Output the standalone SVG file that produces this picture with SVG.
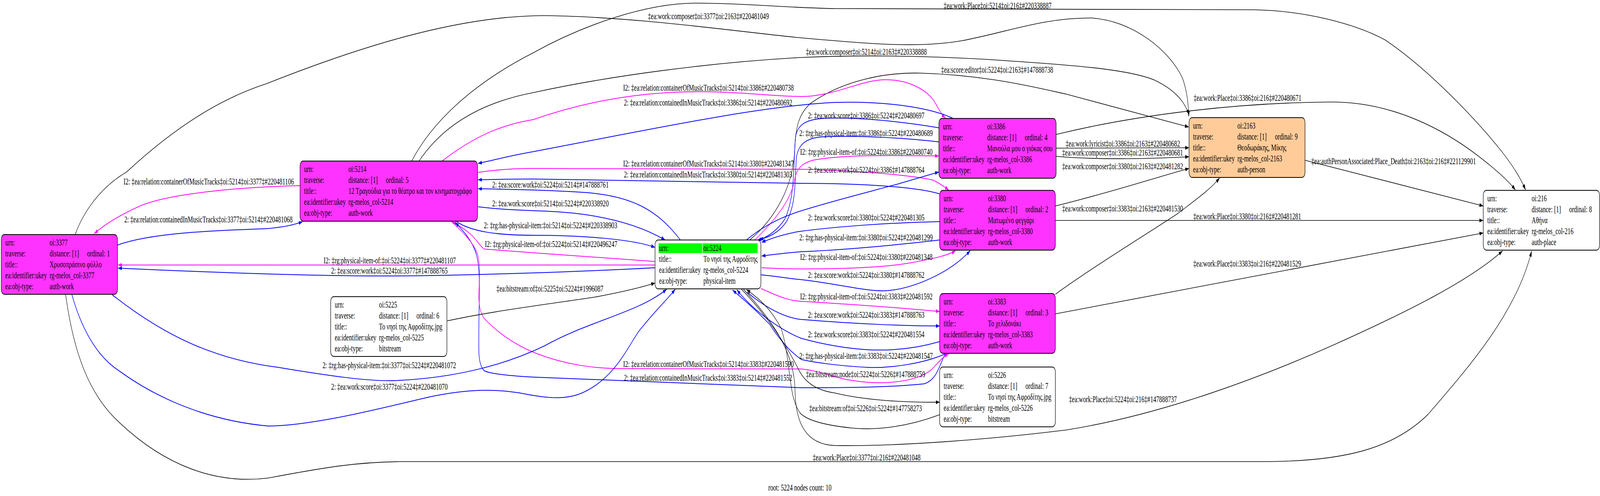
<svg xmlns="http://www.w3.org/2000/svg" width="6319" height="1269" viewBox="0 0 6319 1269" preserveAspectRatio="none">
<style>
svg{width:100vw;height:100vh;display:block}
text{font-family:"Liberation Serif","Times New Roman",serif;font-size:23.3px;fill:#000}
.box{stroke:#000;stroke-width:1.8}
#edges path{fill:none}
.b{stroke:#0000ff;stroke-width:2}
.m{stroke:#ff00ff;stroke-width:2}
.k{stroke:#000;stroke-width:1.6}
.b{marker-end:url(#ab)}
.m{marker-end:url(#am)}
.k{marker-end:url(#ak)}
</style>
<defs>
<marker id="ab" markerWidth="15" markerHeight="10" refX="15" refY="5" orient="auto" markerUnits="userSpaceOnUse"><path d="M0,0 L15,5 L0,10 z" fill="#0000ff"/></marker>
<marker id="am" markerWidth="15" markerHeight="10" refX="15" refY="5" orient="auto" markerUnits="userSpaceOnUse"><path d="M0,0 L15,5 L0,10 z" fill="#ff00ff"/></marker>
<marker id="ak" markerWidth="15" markerHeight="10" refX="15" refY="5" orient="auto" markerUnits="userSpaceOnUse"><path d="M0,0 L15,5 L0,10 z" fill="#000"/></marker>
</defs>
<rect width="6319" height="1269" fill="#fff"/>
<g id="edges">
<g><path class="k" d="M297,600 C330,540 400,478 500,440 C700,320 880,250 1053,214 C1400,125 1800,40 2150,40 C2500,42 2900,80 3166,97 C3400,110 3620,125 3800,104 C3980,82 4120,45 4313,46 C4480,55 4620,130 4670,200 C4690,235 4693,270 4695,298"/><text x="2559" y="49">‡ea:work:composer‡oi:3377‡oi:2163‡#220481049</text></g>
<g><path class="k" d="M1626,412 C1700,320 1850,220 2106,135 C2300,65 2550,8 2748,8 C2950,8 3100,20 3300,22 L4950,25 C5150,27 5350,60 5470,102 C5650,180 5850,320 5941,396 C5980,430 6005,455 6025,486"/><text x="3727" y="22">‡ea:work:Place‡oi:5214‡oi:216‡#220338887</text></g>
<g><path class="k" d="M1655,412 C1740,330 1880,265 2106,237 C2400,195 2800,160 3166,147 C3400,140 3650,143 3900,152 C4200,165 4450,175 4560,205 C4640,230 4680,260 4696,295"/><text x="3183" y="140">‡ea:work:composer‡oi:5214‡oi:2163‡#220338888</text></g>
<g><path class="k" d="M2961,614 C3060,560 3130,480 3138,390 C3142,330 3150,295 3200,265 C3330,205 3500,185 3632,187 C3900,192 4100,225 4212,241 L4695,325"/><text x="3717" y="186">‡ea:score:editor‡oi:5224‡oi:2163‡#147888738</text></g>
<g><path class="k" d="M5154,410 L5858,527"/><text x="5179" y="420">‡ea:authPersonAssociated:Place_Death‡oi:2163‡oi:216‡#221129901</text></g>
<g><path class="k" d="M4171,344 C4500,292 4900,262 5265,261 C5500,262 5700,330 5840,400 C5920,440 5960,465 5985,486"/><text x="4714" y="258">‡ea:work:Place‡oi:3386‡oi:216‡#220480671</text></g>
<g><path class="k" d="M4171,379 L4696,378"/><text x="4209" y="375">‡ea:work:lyricist‡oi:3386‡oi:2163‡#220480682</text></g>
<g><path class="k" d="M4171,400 C4350,410 4550,406 4696,401"/><text x="4195" y="398">‡ea:work:composer‡oi:3386‡oi:2163‡#220480681</text></g>
<g><path class="k" d="M4168,527 C4400,490 4560,455 4696,431"/><text x="4195" y="433">‡ea:work:composer‡oi:3380‡oi:2163‡#220481282</text></g>
<g><path class="k" d="M4168,564 L5858,564"/><text x="4713" y="561">‡ea:work:Place‡oi:3380‡oi:216‡#220481281</text></g>
<g><path class="k" d="M4168,753 C4300,690 4550,590 4650,547 C4720,512 4780,485 4817,455"/><text x="4195" y="541">‡ea:work:composer‡oi:3383‡oi:2163‡#220481530</text></g>
<g><path class="k" d="M4168,803 L5858,596"/><text x="4713" y="682">‡ea:work:Place‡oi:3383‡oi:216‡#220481529</text></g>
<g><path class="k" d="M2935,739 C3050,820 3138,900 3140,1000 C3142,1080 3180,1138 3300,1140 C3550,1142 3900,1125 4212,1100 C4600,1060 5000,960 5272,881 C5550,800 5800,720 5934,642"/><text x="4222" y="1029">‡ea:work:Place‡oi:5224‡oi:216‡#147888737</text></g>
<g><path class="k" d="M259,753 C290,900 350,1010 473,1082 C650,1190 850,1240 1060,1223 C1250,1200 1400,1181 1600,1181 L5000,1181 C5300,1180 5500,1150 5640,1060 C5800,940 5990,800 6049,642"/><text x="3210" y="1178">‡ea:work:Place‡oi:3377‡oi:216‡#220481048</text></g>
<g><path class="m" d="M1185,475 C1000,478 700,490 560,525 C480,548 415,573 372,598"/><text x="488" y="472">I2: ‡ea:relation:containerOfMusicTracks‡oi:5214‡oi:3377‡#220481106</text></g>
<g><path class="b" d="M464,627 C600,595 850,590 1053,585 C1110,582 1160,576 1195,567"/><text x="491" y="569">2: ‡ea:relation:containedInMusicTracks‡oi:3377‡oi:5214‡#220481068</text></g>
<g><path class="m" d="M1746,412 C1880,345 1990,318 2106,306 C2300,262 2500,238 2714,235 C2900,232 3050,247 3166,247 C3300,246 3400,204 3497,204 C3600,204 3670,235 3695,265 C3712,285 3722,295 3734,302"/><text x="2461" y="232">I2: ‡ea:relation:containerOfMusicTracks‡oi:5214‡oi:3386‡#220480738</text></g>
<g><path class="b" d="M3764,303 C3700,283 3550,258 3300,262 C3000,270 2500,340 2106,388 C2000,400 1950,410 1888,418"/><text x="2464" y="270">2: ‡ea:relation:containedInMusicTracks‡oi:3386‡oi:5214‡#220480692</text></g>
<g><path class="m" d="M1888,441 C1950,435 2030,431 2106,431 L3166,433 C3400,437 3600,448 3686,461 C3712,470 3732,478 3747,487"/><text x="2461" y="426">I2: ‡ea:relation:containerOfMusicTracks‡oi:5214‡oi:3380‡#220481347</text></g>
<g><path class="b" d="M3711,496 C3620,478 3400,469 3159,469 L2106,458 C2030,458 1950,459 1888,460"/><text x="2464" y="454">2: ‡ea:relation:containedInMusicTracks‡oi:3380‡oi:5214‡#220481303</text></g>
<g><path class="b" d="M2687,614 C2600,540 2500,500 2300,492 C2150,486 2000,484 1888,483"/><text x="1944" y="480">2: ‡ea:score:work‡oi:5224‡oi:5214‡#147888761</text></g>
<g><path class="b" d="M1888,529 C1960,535 2050,538 2150,540 C2350,545 2510,570 2627,614"/><text x="1944" y="528">2: ‡ea:work:score‡oi:5214‡oi:5224‡#220338920</text></g>
<g><path class="b" d="M1803,567 C1860,592 1960,602 2106,602 C2300,602 2500,612 2587,633"/><text x="1911" y="584">2: ‡rg:has-physical-item:‡oi:5214‡oi:5224‡#220338903</text></g>
<g><path class="m" d="M2587,669 L2113,647 L1911,637 C1895,628 1880,612 1860,600 C1830,583 1805,574 1786,568"/><text x="1915" y="632">I2: ‡rg:physical-item-of:‡oi:5224‡oi:5214‡#220496247</text></g>
<g><path class="b" d="M3734,904 C3712,930 3702,972 3650,982 C3500,992 3300,992 3166,992 L2113,965 C2000,961 1932,956 1911,948 C1888,930 1891,900 1891,860 C1891,760 1900,700 1882,652 C1865,615 1830,590 1797,569"/><text x="2464" y="974">2: ‡ea:relation:containedInMusicTracks‡oi:3383‡oi:5214‡#220481552</text></g>
<g><path class="m" d="M1783,567 C1825,592 1868,618 1886,650 C1900,685 1891,722 1891,765 C1893,790 1902,805 1911,814 C1975,858 2045,885 2113,903 C2240,935 2350,942 2444,943 L3166,944 C3250,950 3300,968 3362,973 C3420,979 3460,980 3497,979 C3600,976 3662,960 3690,938 C3712,922 3732,910 3747,905"/><text x="2461" y="939">I2: ‡ea:relation:containerOfMusicTracks‡oi:5214‡oi:3383‡#220481590</text></g>
<g><path class="m" d="M2587,678 L466,678"/><text x="1278" y="674">I2: ‡rg:physical-item-of:‡oi:5224‡oi:3377‡#220481107</text></g>
<g><path class="b" d="M2587,685 C2300,695 1800,706 1526,706 C1200,706 800,696 466,686"/><text x="1308" y="700">2: ‡ea:score:work‡oi:5224‡oi:3377‡#147888765</text></g>
<g><path class="k" d="M1766,821 C1950,795 2200,775 2350,760 C2450,748 2530,736 2587,724"/><text x="1961" y="746">‡ea:bitstream:of‡oi:5225‡oi:5224‡#1996087</text></g>
<g><path class="b" d="M443,754 C650,860 850,920 1100,940 C1300,962 1450,975 1550,974 C1800,968 2000,932 2150,885 C2330,820 2520,800 2633,740"/><text x="1274" y="942">2: ‡rg:has-physical-item:‡oi:3377‡oi:5224‡#220481072</text></g>
<g><path class="b" d="M284,754 C330,860 400,920 473,950 C600,1010 800,1075 1060,1090 C1250,1088 1500,1045 1700,1015 C1850,995 1950,995 2050,1005 C2150,1018 2230,1025 2300,1005 C2420,970 2470,900 2520,850 C2580,800 2630,770 2667,740"/><text x="1308" y="997">2: ‡ea:work:score‡oi:3377‡oi:5224‡#220481070</text></g>
<g><path class="b" d="M3708,327 C3600,315 3400,298 3250,303 C3180,306 3150,320 3142,350 C3132,420 3142,500 3100,560 C3070,590 3030,606 3000,614"/><text x="3191" y="303">2: ‡ea:work:score‡oi:3386‡oi:5224‡#220480697</text></g>
<g><path class="b" d="M3708,363 C3600,355 3400,345 3250,350 C3185,353 3155,368 3146,400 C3138,450 3148,520 3105,568 C3075,596 3035,608 2992,614"/><text x="3157" y="348">2: ‡rg:has-physical-item:‡oi:3386‡oi:5224‡#220480689</text></g>
<g><path class="m" d="M2981,614 C3050,570 3125,515 3138,460 C3146,432 3165,418 3210,410 C3320,396 3500,397 3708,399"/><text x="3160" y="396">I2: ‡rg:physical-item-of:‡oi:5224‡oi:3386‡#220480740</text></g>
<g><path class="b" d="M2948,614 C3010,580 3080,556 3166,539 C3300,512 3450,488 3550,470 C3620,457 3670,447 3708,440"/><text x="3191" y="442">2: ‡ea:score:work‡oi:5224‡oi:3386‡#147888764</text></g>
<g><path class="b" d="M3711,567 C3500,570 3300,580 3159,592 C3100,598 3045,610 3008,620"/><text x="3191" y="564">2: ‡ea:work:score‡oi:3380‡oi:5224‡#220481305</text></g>
<g><path class="b" d="M3711,614 C3500,630 3300,640 3166,644 C3100,647 3045,652 3008,655"/><text x="3157" y="615">2: ‡rg:has-physical-item:‡oi:3380‡oi:5224‡#220481299</text></g>
<g><path class="m" d="M3008,685 C3060,687 3110,688 3159,688 C3350,688 3500,684 3600,672 C3700,660 3750,652 3774,641"/><text x="3160" y="665">I2: ‡rg:physical-item-of:‡oi:5224‡oi:3380‡#220481348</text></g>
<g><path class="b" d="M3005,703 C3080,708 3120,713 3159,715 C3300,725 3420,746 3497,744 C3600,740 3750,700 3832,641"/><text x="3191" y="711">2: ‡ea:score:work‡oi:5224‡oi:3380‡#147888762</text></g>
<g><path class="m" d="M3005,738 C3080,760 3120,770 3166,771 C3400,780 3600,790 3711,797"/><text x="3160" y="766">I2: ‡rg:physical-item-of:‡oi:5224‡oi:3383‡#220481592</text></g>
<g><path class="b" d="M2951,748 C3030,790 3100,812 3159,817 C3400,830 3600,834 3711,834"/><text x="3191" y="813">2: ‡ea:score:work‡oi:5224‡oi:3383‡#147888763</text></g>
<g><path class="b" d="M3711,874 C3600,895 3500,897 3429,895 C3300,890 3200,872 3166,866 C3100,850 2980,800 2910,741"/><text x="3191" y="863">2: ‡ea:work:score‡oi:3383‡oi:5224‡#220481554</text></g>
<g><path class="b" d="M3734,905 C3650,930 3520,942 3429,940 C3300,936 3200,925 3166,920 C3120,900 3080,870 3040,830 C2980,790 2930,762 2893,742"/><text x="3157" y="918">2: ‡rg:has-physical-item:‡oi:3383‡oi:5224‡#220481547</text></g>
<g><path class="k" d="M2927,739 C3040,815 3110,890 3150,940 C3180,985 3240,1000 3294,1005 C3400,1022 3550,1030 3711,1029"/><text x="3183" y="965">‡ea:bitstream:node‡oi:5224‡oi:5226‡#147888759</text></g>
<g><path class="k" d="M3711,1061 C3560,1098 3430,1100 3362,1095 C3260,1088 3185,1075 3159,1056 C3110,1010 3125,920 3085,840 C3045,790 2995,762 2948,741"/><text x="3196" y="1052">‡ea:bitstream:of‡oi:5226‡oi:5224‡#147758273</text></g>
</g>
<g id="n3377" transform="translate(5,600)">
<rect class="box" width="459" height="153" rx="12" fill="#ff33ff"/>
<text x="16" y="28.5">urn:</text><text x="191" y="28.5">oi:3377</text>
<text x="16" y="56.5">traverse:</text><text x="191" y="56.5">distance: [1]</text><text x="339" y="56.5">ordinal: 1</text>
<text x="16" y="84.5">title::</text><text x="191" y="84.5">Χρυσοπράσινο φύλλο</text>
<text x="16" y="112.5">ea:identifier:ukey</text><text x="191" y="112.5">rg-melos_col-3377</text>
<text x="16" y="140.5">ea:obj-type:</text><text x="191" y="140.5">auth-work</text>
</g>
<g id="n5214" transform="translate(1185,412)">
<rect class="box" width="701" height="154" rx="12" fill="#ff33ff"/>
<text x="16" y="28.5">urn:</text><text x="191" y="28.5">oi:5214</text>
<text x="16" y="56.5">traverse:</text><text x="191" y="56.5">distance: [1]</text><text x="339" y="56.5">ordinal: 5</text>
<text x="16" y="84.5">title::</text><text x="191" y="84.5">12 Τραγούδια για το θέατρο και τον κινηματογράφο</text>
<text x="16" y="112.5">ea:identifier:ukey</text><text x="191" y="112.5">rg-melos_col-5214</text>
<text x="16" y="140.5">ea:obj-type:</text><text x="191" y="140.5">auth-work</text>
</g>
<g id="n5224" transform="translate(2587,614)">
<rect class="box" width="418" height="125" rx="12" fill="#fff"/>
<rect x="14" y="8.5" width="172" height="25" fill="#00ff00"/>
<rect x="188" y="8.5" width="217" height="25" fill="#00ff00"/>
<text x="16" y="28">urn:</text><text x="191" y="28">oi:5224</text>
<text x="16" y="56">title::</text><text x="191" y="56">Το νησί της Αφροδίτης</text>
<text x="16" y="84">ea:identifier:ukey</text><text x="191" y="84">rg-melos_col-5224</text>
<text x="16" y="112">ea:obj-type:</text><text x="191" y="112">physical-item</text>
</g>
<g id="n5225" transform="translate(1306,759)">
<rect class="box" width="459" height="153" rx="12" fill="#fff"/>
<text x="16" y="28.5">urn:</text><text x="191" y="28.5">oi:5225</text>
<text x="16" y="56.5">traverse:</text><text x="191" y="56.5">distance: [1]</text><text x="339" y="56.5">ordinal: 6</text>
<text x="16" y="84.5">title::</text><text x="191" y="84.5">Το νησί της Αφροδίτης.jpg</text>
<text x="16" y="112.5">ea:identifier:ukey</text><text x="191" y="112.5">rg-melos_col-5225</text>
<text x="16" y="140.5">ea:obj-type:</text><text x="191" y="140.5">bitstream</text>
</g>
<g id="n3386" transform="translate(3708,303)">
<rect class="box" width="463" height="153" rx="12" fill="#ff33ff"/>
<text x="16" y="28.5">urn:</text><text x="191" y="28.5">oi:3386</text>
<text x="16" y="56.5">traverse:</text><text x="191" y="56.5">distance: [1]</text><text x="339" y="56.5">ordinal: 4</text>
<text x="16" y="84.5">title::</text><text x="191" y="84.5">Μανούλα μου ο γιόκας σου</text>
<text x="16" y="112.5">ea:identifier:ukey</text><text x="191" y="112.5">rg-melos_col-3386</text>
<text x="16" y="140.5">ea:obj-type:</text><text x="191" y="140.5">auth-work</text>
</g>
<g id="n3380" transform="translate(3711,487)">
<rect class="box" width="457" height="153" rx="12" fill="#ff33ff"/>
<text x="16" y="28.5">urn:</text><text x="191" y="28.5">oi:3380</text>
<text x="16" y="56.5">traverse:</text><text x="191" y="56.5">distance: [1]</text><text x="339" y="56.5">ordinal: 2</text>
<text x="16" y="84.5">title::</text><text x="191" y="84.5">Ματωμένο φεγγάρι</text>
<text x="16" y="112.5">ea:identifier:ukey</text><text x="191" y="112.5">rg-melos_col-3380</text>
<text x="16" y="140.5">ea:obj-type:</text><text x="191" y="140.5">auth-work</text>
</g>
<g id="n3383" transform="translate(3711,751)">
<rect class="box" width="457" height="153" rx="12" fill="#ff33ff"/>
<text x="16" y="28.5">urn:</text><text x="191" y="28.5">oi:3383</text>
<text x="16" y="56.5">traverse:</text><text x="191" y="56.5">distance: [1]</text><text x="339" y="56.5">ordinal: 3</text>
<text x="16" y="84.5">title::</text><text x="191" y="84.5">Το χελιδονάκι</text>
<text x="16" y="112.5">ea:identifier:ukey</text><text x="191" y="112.5">rg-melos_col-3383</text>
<text x="16" y="140.5">ea:obj-type:</text><text x="191" y="140.5">auth-work</text>
</g>
<g id="n5226" transform="translate(3711,939)">
<rect class="box" width="457" height="153" rx="12" fill="#fff"/>
<text x="16" y="28.5">urn:</text><text x="191" y="28.5">oi:5226</text>
<text x="16" y="56.5">traverse:</text><text x="191" y="56.5">distance: [1]</text><text x="339" y="56.5">ordinal: 7</text>
<text x="16" y="84.5">title::</text><text x="191" y="84.5">Το νησί της Αφροδίτης.jpg</text>
<text x="16" y="112.5">ea:identifier:ukey</text><text x="191" y="112.5">rg-melos_col-5226</text>
<text x="16" y="140.5">ea:obj-type:</text><text x="191" y="140.5">bitstream</text>
</g>
<g id="n2163" transform="translate(4696,301)">
<rect class="box" width="458" height="153" rx="12" fill="#ffcc99"/>
<text x="16" y="28.5">urn:</text><text x="191" y="28.5">oi:2163</text>
<text x="16" y="56.5">traverse:</text><text x="191" y="56.5">distance: [1]</text><text x="339" y="56.5">ordinal: 9</text>
<text x="16" y="84.5">title::</text><text x="191" y="84.5">Θεοδωράκης, Μίκης</text>
<text x="16" y="112.5">ea:identifier:ukey</text><text x="191" y="112.5">rg-melos_col-2163</text>
<text x="16" y="140.5">ea:obj-type:</text><text x="191" y="140.5">auth-person</text>
</g>
<g id="n216" transform="translate(5858,487)">
<rect class="box" width="459" height="153" rx="12" fill="#fff"/>
<text x="16" y="28.5">urn:</text><text x="191" y="28.5">oi:216</text>
<text x="16" y="56.5">traverse:</text><text x="191" y="56.5">distance: [1]</text><text x="339" y="56.5">ordinal: 8</text>
<text x="16" y="84.5">title::</text><text x="191" y="84.5">Αθήνα</text>
<text x="16" y="112.5">ea:identifier:ukey</text><text x="191" y="112.5">rg-melos_col-216</text>
<text x="16" y="140.5">ea:obj-type:</text><text x="191" y="140.5">auth-place</text>
</g>
<text x="3159" y="1255" text-anchor="middle">root: 5224 nodes count: 10</text>
</svg>
